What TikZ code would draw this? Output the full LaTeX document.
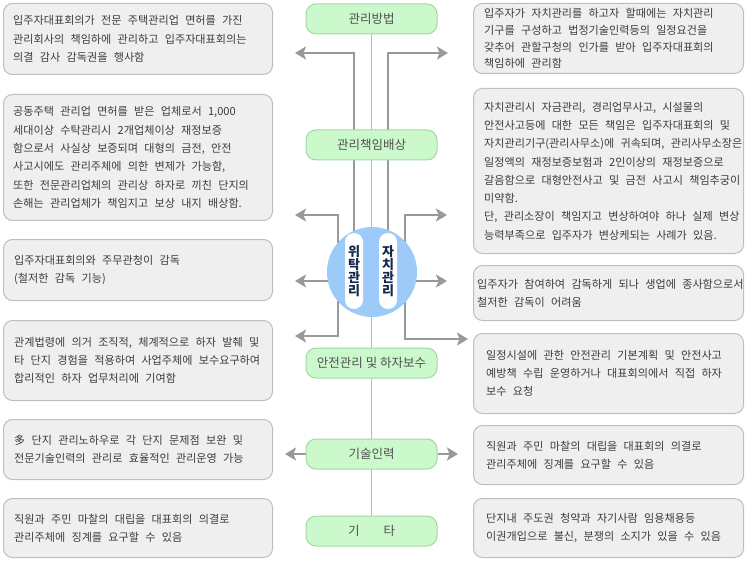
\documentclass[tikz,border=0pt]{standalone}
\usepackage{fontspec}
\setmainfont{Noto Sans CJK KR}
\usetikzlibrary{arrows.meta,positioning,backgrounds}
\definecolor{boxfill}{HTML}{EFEFEF}
\definecolor{boxline}{HTML}{BEBEBE}
\definecolor{boxtext}{HTML}{3C3C3C}
\definecolor{tagfill}{HTML}{CCF9CC}
\definecolor{tagline}{HTML}{A4D6A4}
\definecolor{tagtext}{HTML}{505050}
\definecolor{spine}{HTML}{F2C01E}
\definecolor{linkgray}{HTML}{999999}
\definecolor{disc}{HTML}{9DCBF9}
\definecolor{navy}{HTML}{13294B}
\tikzset{
  descbox/.style={draw=boxline, fill=boxfill, line width=1pt, rounded corners=9pt, inner sep=0pt, anchor=north west},
  desc/.style={inner sep=0pt, align=left, text=boxtext, font={\fontsize{11.1}{18.3}\selectfont\spaceskip=6.3pt\relax}},
  tag/.style={draw=tagline, fill=tagfill, line width=1pt, rounded corners=10pt, minimum width=131pt, minimum height=30pt, inner sep=0pt, text=tagtext, font=\fontsize{12.5}{13}\selectfont},
  pill/.style={fill=white, rounded corners=9pt, minimum width=18pt, minimum height=76pt, inner sep=0pt, align=center, text=navy, font=\fontsize{13}{12.8}\selectfont\bfseries},
  link/.style={draw=linkgray, line width=1.4pt, -{Stealth[length=11pt,width=13pt,inset=2.5pt]}}
}
\begin{document}
\begin{tikzpicture}[x=1pt,y=-1pt]
\useasboundingbox (0,0) rectangle (746,561);

\node[descbox, minimum width=269pt, minimum height=71pt] (l1) at (3,3) {};
\node[descbox, minimum width=269pt, minimum height=126pt] (l2) at (3,94) {};
\node[descbox, minimum width=269pt, minimum height=61pt] (l3) at (3,239) {};
\node[descbox, minimum width=269pt, minimum height=80pt] (l4) at (3,320) {};
\node[descbox, minimum width=269pt, minimum height=60pt] (l5) at (3,419) {};
\node[descbox, minimum width=269pt, minimum height=59pt] (l6) at (3,498) {};

\node[descbox, minimum width=270pt, minimum height=70pt] (r1) at (473,3) {};
\node[descbox, minimum width=270pt, minimum height=165pt] (r2) at (473,88) {};
\node[descbox, minimum width=270pt, minimum height=55pt] (r3) at (473,265) {};
\node[descbox, minimum width=270pt, minimum height=80pt] (r4) at (473,333) {};
\node[descbox, minimum width=270pt, minimum height=59pt] (r5) at (473,425) {};
\node[descbox, minimum width=270pt, minimum height=59pt] (r6) at (473,498) {};

\node[desc, right=10pt of l1.west] (l1t) {입주자대표회의가 전문 주택관리업 면허를 가진\\관리회사의 책임하에 관리하고 입주자대표회의는\\의결 감사 감독권을 행사함};
\node[desc, right=10pt of l2.west] (l2t) {공동주택 관리업 면허를 받은 업체로서 1,000\\세대이상 수탁관리시 2개업체이상 재정보증\\함으로서 사실상 보증되며 대형의 금전, 안전\\사고시에도 관리주체에 의한 변제가 가능함,\\또한 전문관리업체의 관리상 하자로 끼친 단지의\\손해는 관리업체가 책임지고 보상 내지 배상함.};
\node[desc, right=11pt of l3.west] (l3t) {입주자대표회의와 주무관청이 감독\\(철저한 감독 기능)};
\node[desc, right=11pt of l4.west] (l4t) {관계법령에 의거 조직적, 체계적으로 하자 발췌 및\\타 단지 경험을 적용하여 사업주체에 보수요구하여\\합리적인 하자 업무처리에 기여함};
\node[desc, right=11pt of l5.west] (l5t) {多 단지 관리노하우로 각 단지 문제점 보완 및\\전문기술인력의 관리로 효율적인 관리운영 가능};
\node[desc, right=11pt of l6.west] (l6t) {직원과 주민 마찰의 대립을 대표회의 의결로\\관리주체에 징계를 요구할 수 있음};

\node[desc, font={\fontsize{11.1}{16.7}\selectfont\spaceskip=6.3pt\relax}, right=11pt of r1.west] (r1t) {입주자가 자치관리를 하고자 할때에는 자치관리\\기구를 구성하고 법정기술인력등의 일정요건을\\갖추어 관할구청의 인가를 받아 입주자대표회의\\책임하에 관리함};
\node[desc, right=11pt of r2.west] (r2t) {자치관리시 자금관리, 경리업무사고, 시설물의\\안전사고등에 대한 모든 책임은 입주자대표회의 및\\자치관리기구(관리사무소)에 귀속되며, 관리사무소장은\\일정액의 재정보증보험과 2인이상의 재정보증으로\\갈음함으로 대형안전사고 및 금전 사고시 책임추궁이\\미약함.\\단, 관리소장이 책임지고 변상하여야 하나 실제 변상\\능력부족으로 입주자가 변상케되는 사례가 있음.};
\node[desc, right=4pt of r3.west] (r3t) {입주자가 참여하여 감독하게 되나 생업에 종사함으로서\\철저한 감독이 어려움};
\node[desc, right=13pt of r4.west] (r4t) {일정시설에 관한 안전관리 기본계획 및 안전사고\\예방책 수립 운영하거나 대표회의에서 직접 하자\\보수 요청};
\node[desc, right=13pt of r5.west] (r5t) {직원과 주민 마찰의 대립을 대표회의 의결로\\관리주체에 징계를 요구할 수 있음};
\node[desc, right=13pt of r6.west] (r6t) {단지내 주도권 청약과 자기사람 임용채용등\\이권개입으로 불신, 분쟁의 소지가 있을 수 있음};

\node[tag] (m1) at (371.5,19) {관리방법};
\node[tag] (m2) at (371.5,145) {관리책임배상};
\node[tag] (m3) at (371.5,363) {안전관리 및 하자보수};
\node[tag] (m4) at (371.5,454) {기술인력};
\node[tag] (m5) at (371.5,531) {기\hspace{24pt}타};

\node[circle, fill=disc, minimum size=90pt, inner sep=0pt] (c) at (372,272) {};
\node[pill] (wt) at (354,271) {위\\탁\\관\\리};
\node[pill] (jc) at (388,271) {자\\치\\관\\리};

\coordinate (lj) at (338,272);
\coordinate (rj) at (405,272);
\coordinate (a1) at (295,53);
\coordinate (b1) at (448,53);
\coordinate (a2) at (295,215);
\coordinate (b2) at (447,215);
\coordinate (a3) at (295,281);
\coordinate (b3) at (447,281);
\coordinate (a4) at (295,336);
\coordinate (b4) at (468,339);
\coordinate (a5) at (285,454);
\coordinate (b5) at (458,454);

\begin{scope}[on background layer]
\draw[draw=spine, line width=1pt] (m1) -- (m5);
\draw[link] (wt.north) |- (a1);
\draw[link] (jc.north) |- (b1);
\draw[link] (lj) |- (a2);
\draw[link] (a3 -| c) -- (a3);
\draw[link] (lj) |- (a4);
\draw[link] (rj) |- (b2);
\draw[link] (b3 -| c) -- (b3);
\draw[link] (rj) |- (b4);
\draw[link] (m4) -- (a5);
\draw[link] (m4) -- (b5);
\end{scope}
\end{tikzpicture}
\end{document}
